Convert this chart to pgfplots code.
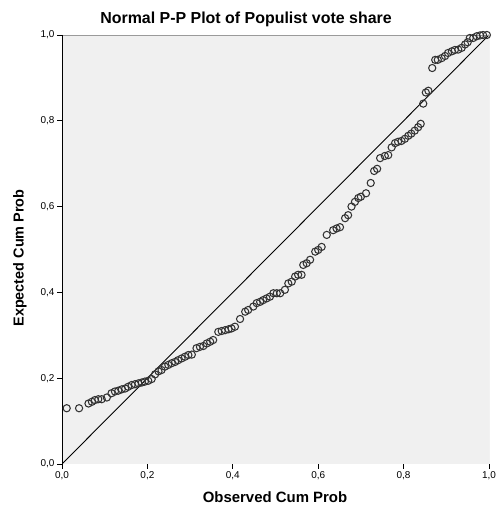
\documentclass[border=0pt]{standalone}
\usepackage{fontspec}
\setmainfont{Liberation Sans}
\usepackage{pgfplots}
\pgfplotsset{compat=1.18}
\definecolor{bg}{HTML}{F0F0F0}
\definecolor{mk}{HTML}{333333}
\definecolor{fr}{HTML}{9A9A9A}
\begin{document}
\begin{tikzpicture}[x=1bp,y=1bp]
\useasboundingbox (0,0) rectangle (496,509);
\fill[white] (0,0) rectangle (496,509);
\begin{axis}[
  at={(62bp,45bp)}, anchor=south west,
  scale only axis, width=427bp, height=429bp,
  xmin=0, xmax=1, ymin=0, ymax=1,
  axis background/.style={fill=bg},
  axis line style={draw=none},
  xtick={0,0.2,0.4,0.6,0.8,1}, ytick={0,0.2,0.4,0.6,0.8,1},
  tick align=outside, tick pos=left,
  major tick length=5bp,
  every tick/.style={black, line width=0.8bp},
  /pgf/number format/.cd, use comma, fixed, fixed zerofill, precision=1, assume math mode=true,
  /pgfplots/.cd,
  ticklabel style={font=\fontsize{10}{12}\selectfont},
  xticklabel style={yshift=1bp},
  yticklabel style={xshift=1bp},
]
\addplot[black, line width=0.9bp] coordinates {(0,0) (1,1)};
\addplot[only marks, mark=o, mark size=3.6bp, mark options={draw=mk, line width=1.05bp}] table {
x y
0.011 0.130
0.040 0.130
0.062 0.141
0.070 0.145
0.077 0.149
0.085 0.151
0.093 0.151
0.105 0.155
0.116 0.165
0.124 0.169
0.132 0.171
0.140 0.174
0.148 0.176
0.155 0.180
0.163 0.184
0.171 0.186
0.179 0.188
0.187 0.190
0.194 0.192
0.202 0.194
0.210 0.198
0.218 0.209
0.226 0.216
0.233 0.219
0.241 0.227
0.249 0.231
0.257 0.235
0.265 0.238
0.272 0.242
0.280 0.246
0.288 0.250
0.296 0.254
0.304 0.255
0.315 0.270
0.323 0.273
0.331 0.275
0.339 0.281
0.347 0.285
0.354 0.289
0.366 0.308
0.374 0.310
0.382 0.312
0.390 0.314
0.397 0.316
0.405 0.320
0.417 0.338
0.429 0.355
0.436 0.359
0.448 0.367
0.456 0.375
0.464 0.378
0.471 0.382
0.479 0.386
0.487 0.390
0.495 0.398
0.503 0.398
0.511 0.398
0.522 0.406
0.530 0.421
0.538 0.425
0.546 0.437
0.553 0.441
0.561 0.441
0.565 0.464
0.573 0.468
0.581 0.476
0.593 0.495
0.600 0.499
0.608 0.506
0.620 0.534
0.635 0.545
0.643 0.549
0.651 0.552
0.663 0.573
0.670 0.580
0.678 0.600
0.686 0.611
0.694 0.620
0.700 0.623
0.712 0.631
0.723 0.655
0.731 0.683
0.738 0.688
0.745 0.713
0.756 0.718
0.764 0.720
0.772 0.738
0.780 0.748
0.787 0.751
0.795 0.753
0.803 0.758
0.811 0.765
0.818 0.770
0.826 0.777
0.834 0.785
0.840 0.793
0.846 0.840
0.852 0.866
0.858 0.870
0.867 0.923
0.874 0.942
0.880 0.942
0.889 0.946
0.897 0.951
0.904 0.958
0.913 0.962
0.920 0.965
0.928 0.966
0.936 0.970
0.944 0.978
0.950 0.983
0.955 0.993
0.963 0.993
0.971 0.997
0.979 0.999
0.986 1.000
0.995 1.000
};
\draw[fr, line width=0.9bp] (rel axis cs:0,1) -- (rel axis cs:1,1) -- (rel axis cs:1,0);
\draw[black, line width=0.9bp] (rel axis cs:0,1) -- (rel axis cs:0,0) -- (rel axis cs:1,0);
\end{axis}
\node[font=\bfseries\fontsize{16}{18}\selectfont] at (246,490) {Normal P-P Plot of Populist vote share};
\node[font=\bfseries\fontsize{15}{17}\selectfont] at (275,12) {Observed Cum Prob};
\node[font=\bfseries\fontsize{14.5}{17}\selectfont, rotate=90] at (20,251) {Expected Cum Prob};
\end{tikzpicture}
\end{document}
